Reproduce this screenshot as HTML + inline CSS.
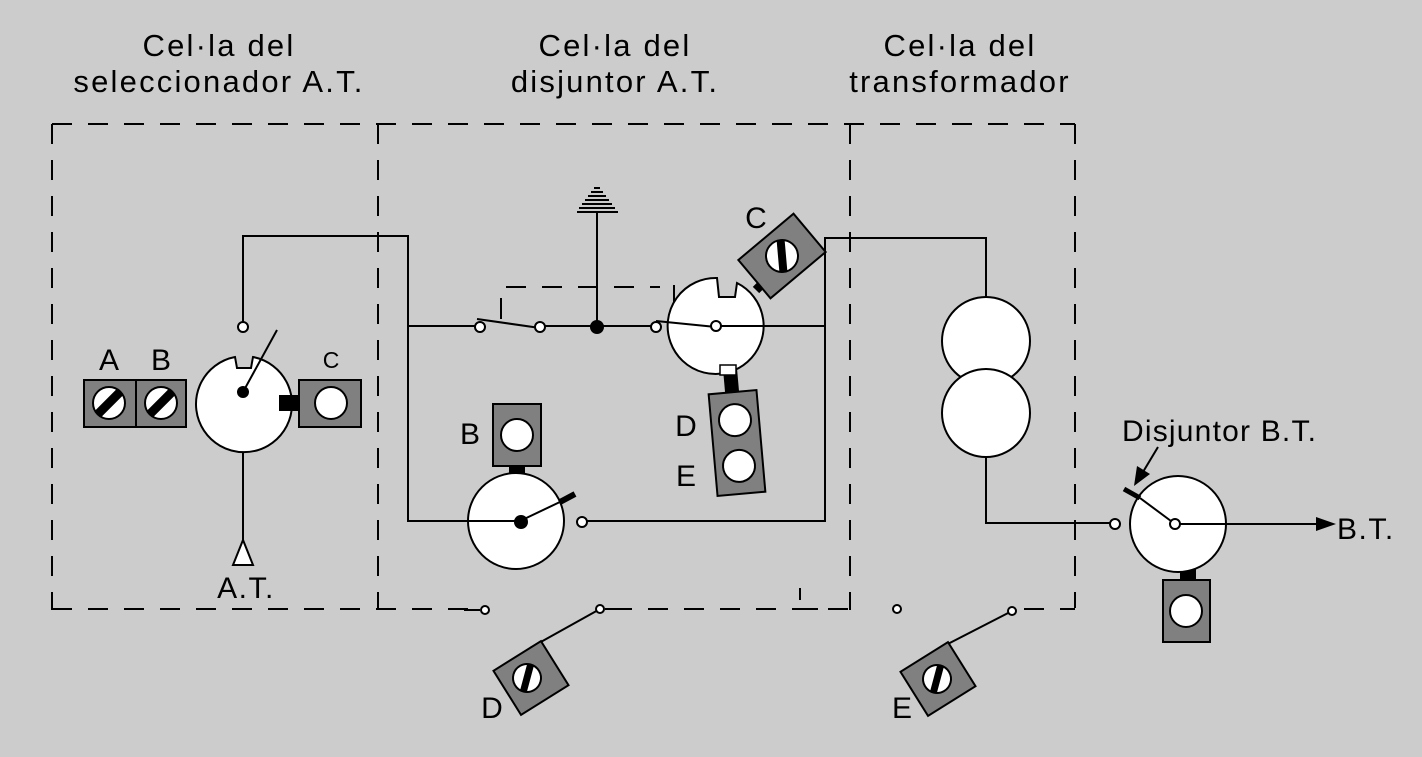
<!DOCTYPE html>
<html><head><meta charset="utf-8"><style>
html,body{margin:0;padding:0;background:#cccccc;}
svg{display:block;}
text{font-family:"Liberation Sans",sans-serif;fill:#000;}
</style></head><body>
<svg width="1422" height="757" viewBox="0 0 1422 757" xmlns="http://www.w3.org/2000/svg">
<rect width="1422" height="757" fill="#cccccc"/>
<g font-size="31" text-anchor="middle" letter-spacing="2.2">
<text x="219" y="56">Cel·la del</text><text x="219" y="92">seleccionador A.T.</text>
<text x="615" y="56">Cel·la del</text><text x="615" y="92">disjuntor  A.T.</text>
<text x="960" y="56">Cel·la del</text><text x="960" y="92">transformador</text>
</g>
<g stroke="#000" stroke-width="2" fill="none" stroke-dasharray="20,16">
<line x1="52" y1="124" x2="1075" y2="124"/>
<line x1="52" y1="124" x2="52" y2="610"/>
<line x1="378" y1="124" x2="378" y2="610"/>
<line x1="850" y1="124" x2="850" y2="610"/>
<line x1="1075" y1="124" x2="1075" y2="608"/>
<line x1="52" y1="609" x2="472" y2="609"/>
<line x1="612" y1="609" x2="850" y2="609"/>
<line x1="1024" y1="609" x2="1075" y2="609"/>
<line x1="506" y1="287" x2="660" y2="287"/>
</g>
<g stroke="#000" stroke-width="2" fill="none">
<line x1="800" y1="600" x2="800" y2="588"/><line x1="800" y1="609" x2="818" y2="609"/>
<polyline points="243,322 243,236 408,236 408,521 520,521"/>
<line x1="243" y1="392" x2="243" y2="540"/>
<line x1="408" y1="326" x2="475" y2="326"/>
<line x1="545" y1="326" x2="651" y2="326"/>
<line x1="597" y1="326" x2="597" y2="213"/>
<polyline points="587,521 825,521 825,238 986,238 986,297"/>
<polyline points="986,457 986,523 1110,523"/>
<line x1="674" y1="285" x2="674" y2="306"/>
<line x1="501" y1="298" x2="501" y2="319"/>
</g>
<!-- left breaker -->
<path d="M235,357 A48,48 0 1 0 253,357 L251,368 L237,368 Z" fill="#fff" stroke="#000" stroke-width="2"/>
<line x1="243" y1="392" x2="277" y2="330" stroke="#000" stroke-width="2"/>
<circle cx="243" cy="392" r="6" fill="#000"/>
<circle cx="243" cy="327" r="5" fill="#fff" stroke="#000" stroke-width="2"/>
<path d="M243,540 L233,565 L253,565 Z" fill="#fff" stroke="#000" stroke-width="2"/>
<text x="246" y="598" font-size="30" text-anchor="middle" letter-spacing="1.5">A.T.</text>
<rect x="84" y="380" width="52" height="47" fill="#808080" stroke="#000" stroke-width="2"/>
<rect x="136" y="380" width="50" height="47" fill="#808080" stroke="#000" stroke-width="2"/>
<defs>
<g id="scr"><circle r="16" fill="#fff" stroke="#000" stroke-width="2"/><line x1="-11" y1="11" x2="11" y2="-11" stroke="#000" stroke-width="9"/></g>
<g id="scv"><circle r="16" fill="#fff" stroke="#000" stroke-width="2"/><line x1="0" y1="-16" x2="0" y2="16" stroke="#000" stroke-width="8"/></g>
</defs>
<use href="#scr" x="109" y="403"/><use href="#scr" x="161" y="403"/>
<g font-size="30" text-anchor="middle">
<text x="109" y="370">A</text>
<text x="161" y="370">B</text>
</g>
<text x="331" y="368" font-size="23" text-anchor="middle">C</text>
<rect x="299" y="380" width="62" height="47" fill="#808080" stroke="#000" stroke-width="2"/>
<circle cx="331" cy="403" r="16" fill="#fff" stroke="#000" stroke-width="2"/>
<rect x="279" y="395" width="20" height="16" fill="#000"/>
<!-- switches -->
<line x1="477" y1="319" x2="540" y2="328" stroke="#000" stroke-width="2"/>
<circle cx="480" cy="327" r="5" fill="#fff" stroke="#000" stroke-width="2"/>
<circle cx="540" cy="327" r="5" fill="#fff" stroke="#000" stroke-width="2"/>
<circle cx="597" cy="327" r="7" fill="#000"/>
<!-- ground -->
<g stroke="#000" stroke-width="2">
<line x1="594" y1="188" x2="600" y2="188"/>
<line x1="591" y1="192" x2="603" y2="192"/>
<line x1="588" y1="196" x2="606" y2="196"/>
<line x1="585" y1="200" x2="609" y2="200"/>
<line x1="582" y1="204" x2="612" y2="204"/>
<line x1="579" y1="208" x2="615" y2="208"/>
<line x1="577" y1="212" x2="618" y2="212"/>
</g>
<!-- middle-top breaker -->
<rect x="724" y="366" width="14" height="30" fill="#000" transform="rotate(-5 731 380)"/>
<path d="M717,278 A48,48 0 1 0 737,283 L735,297 L719,297 Z" fill="#fff" stroke="#000" stroke-width="2"/>
<rect x="720" y="365" width="16" height="10" fill="#fff" stroke="#000" stroke-width="1.5"/>
<line x1="716" y1="326" x2="825" y2="326" stroke="#000" stroke-width="2"/>
<line x1="656" y1="321" x2="716" y2="327" stroke="#000" stroke-width="2"/>
<circle cx="656" cy="327" r="5" fill="#fff" stroke="#000" stroke-width="2"/>
<circle cx="716" cy="326" r="5" fill="#fff" stroke="#000" stroke-width="2"/>
<line x1="756" y1="290" x2="770" y2="276" stroke="#000" stroke-width="9"/>
<g transform="rotate(-40 782 256)">
<rect x="746" y="231" width="72" height="50" fill="#808080" stroke="#000" stroke-width="2"/>
</g>
<g transform="translate(782,256) rotate(-5)"><use href="#scv"/></g>
<text x="756" y="228" font-size="30" text-anchor="middle">C</text>
<g transform="rotate(-5 737 443)">
<rect x="713" y="392" width="48" height="102" fill="#808080" stroke="#000" stroke-width="2"/>
<circle cx="737" cy="420" r="16" fill="#fff" stroke="#000" stroke-width="2"/>
<circle cx="737" cy="466" r="16" fill="#fff" stroke="#000" stroke-width="2"/>
</g>
<g font-size="30" text-anchor="middle">
<text x="686" y="436">D</text>
<text x="686" y="486">E</text>
<text x="470" y="444">B</text>
</g>
<!-- bottom breaker -->
<rect x="509" y="466" width="16" height="22" fill="#000"/>
<circle cx="516" cy="521" r="48" fill="#fff" stroke="#000" stroke-width="2"/>
<line x1="408" y1="521" x2="520" y2="521" stroke="#000" stroke-width="2"/>
<line x1="520" y1="521" x2="562" y2="501" stroke="#000" stroke-width="2"/>
<line x1="560" y1="502" x2="575" y2="494" stroke="#000" stroke-width="6"/>
<circle cx="521" cy="522" r="7" fill="#000"/>
<circle cx="582" cy="522" r="5" fill="#fff" stroke="#000" stroke-width="2"/>
<rect x="493" y="404" width="48" height="62" fill="#808080" stroke="#000" stroke-width="2"/>
<circle cx="517" cy="435" r="16" fill="#fff" stroke="#000" stroke-width="2"/>
<!-- transformer -->
<circle cx="986" cy="341" r="44" fill="#fff" stroke="#000" stroke-width="2"/>
<circle cx="986" cy="413" r="44" fill="#fff" stroke="#000" stroke-width="2"/>
<!-- BT breaker -->
<rect x="1180" y="560" width="16" height="22" fill="#000"/>
<circle cx="1178" cy="524" r="48" fill="#fff" stroke="#000" stroke-width="2"/>
<line x1="1175" y1="524" x2="1318" y2="524" stroke="#000" stroke-width="2"/>
<path d="M1316,517 L1336,524 L1316,531 Z" fill="#000"/>
<text x="1337" y="539" font-size="30" letter-spacing="1.5">B.T.</text>
<line x1="1175" y1="524" x2="1140" y2="498" stroke="#000" stroke-width="2"/>
<line x1="1140" y1="498" x2="1124" y2="489" stroke="#000" stroke-width="5"/>
<circle cx="1175" cy="524" r="5" fill="#fff" stroke="#000" stroke-width="2"/>
<circle cx="1115" cy="524" r="5" fill="#fff" stroke="#000" stroke-width="2"/>
<rect x="1163" y="580" width="47" height="62" fill="#808080" stroke="#000" stroke-width="2"/>
<circle cx="1186" cy="611" r="16" fill="#fff" stroke="#000" stroke-width="2"/>
<text x="1122" y="441" font-size="30" letter-spacing="1.2">Disjuntor B.T.</text>
<line x1="1158" y1="447" x2="1143" y2="472" stroke="#000" stroke-width="2"/>
<path d="M1134,486 L1137,466 L1150,474 Z" fill="#000"/>
<!-- D / E bottom -->
<line x1="600" y1="609" x2="530" y2="648" stroke="#000" stroke-width="2"/>
<line x1="1012" y1="611" x2="940" y2="648" stroke="#000" stroke-width="2"/>
<g transform="rotate(-32 531 678)"><rect x="503" y="652" width="56" height="52" fill="#808080" stroke="#000" stroke-width="2"/></g>
<g transform="translate(527,678) rotate(15)"><circle r="14" fill="#fff" stroke="#000" stroke-width="2"/><line x1="0" y1="-14" x2="0" y2="14" stroke="#000" stroke-width="7"/></g>
<g transform="rotate(-32 938 679)"><rect x="910" y="653" width="56" height="52" fill="#808080" stroke="#000" stroke-width="2"/></g>
<g transform="translate(937,679) rotate(15)"><circle r="14" fill="#fff" stroke="#000" stroke-width="2"/><line x1="0" y1="-14" x2="0" y2="14" stroke="#000" stroke-width="7"/></g>
<g font-size="30" text-anchor="middle">
<text x="492" y="718">D</text>
<text x="902" y="718">E</text>
</g>
<g fill="#fff" stroke="#000" stroke-width="2">
<circle cx="485" cy="610" r="4"/><circle cx="600" cy="609" r="4"/>
<circle cx="897" cy="609" r="4"/><circle cx="1012" cy="611" r="4"/>
</g>
<line x1="464" y1="610" x2="480" y2="610" stroke="#000" stroke-width="2"/>
<line x1="605" y1="609" x2="620" y2="609" stroke="#000" stroke-width="2"/>
</svg>
</body></html>
